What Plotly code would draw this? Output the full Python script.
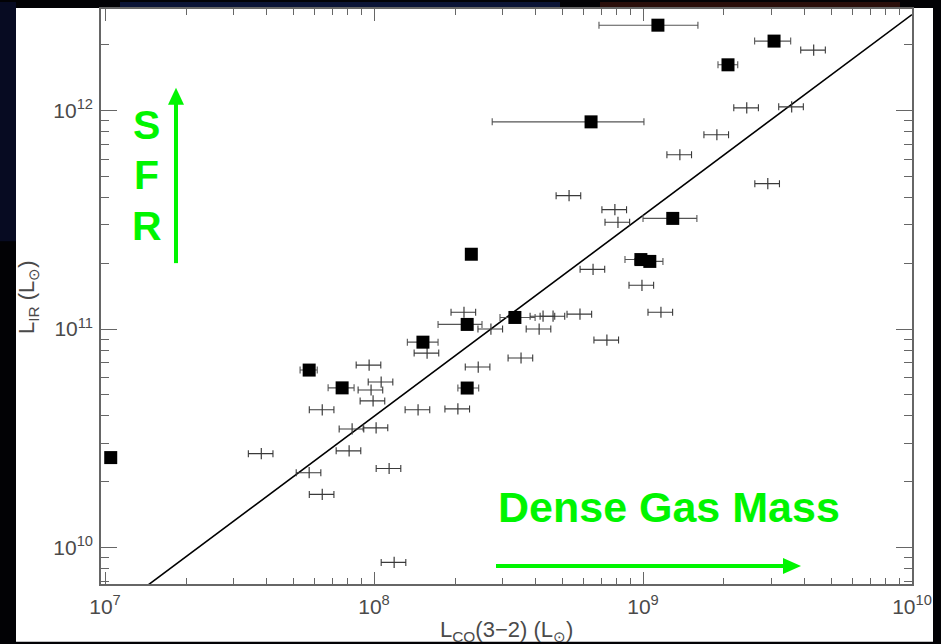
import plotly.graph_objects as go

# ---------------- data ----------------
# filled squares: L'CO(3-2) and L_IR, with horizontal error extents
sq_lco = [1.05e7, 5.74e7, 7.61e7, 1.52e8, 2.30e8, 2.22e8, 2.22e8, 3.34e8,
          6.41e8, 1.136e9, 9.82e8, 1.06e9, 1.29e9, 2.07e9, 3.07e9]
sq_lir = [2.58e10, 6.49e10, 5.38e10, 8.71e10, 2.20e11, 1.05e11, 5.37e10, 1.13e11,
          8.88e11, 2.46e12, 2.08e11, 2.04e11, 3.21e11, 1.62e12, 2.08e12]
sq_lco_lo = [1.05e7, 5.31e7, 6.75e7, 1.33e8, 2.30e8, 1.73e8, 2.05e8, 2.94e8,
             2.75e8, 6.86e8, 8.57e8, 9.33e8, 1.0e9, 1.90e9, 2.60e9]
sq_lco_hi = [1.05e7, 6.15e7, 8.43e7, 1.73e8, 2.30e8, 2.52e8, 2.45e8, 3.97e8,
             1.008e9, 1.60e9, 1.107e9, 1.186e9, 1.586e9, 2.25e9, 3.54e9]

# crosses (local sample)
cr_lco = [3.81e7, 5.74e7, 6.42e7, 8.08e7, 6.42e7, 8.29e7, 1.018e8, 9.59e7, 1.063e8,
          9.75e7, 9.92e7, 1.138e8, 1.188e8, 1.458e8, 1.575e8, 2.05e8, 2.16e8, 2.44e8,
          2.72e8, 3.52e8, 4.11e8, 4.25e8, 4.63e8, 5.83e8, 7.34e8, 1.166e9, 9.91e8,
          6.52e8, 5.31e8, 7.86e8, 8.07e8, 1.371e9, 1.882e9, 2.43e9, 3.57e9, 4.31e9, 2.91e9]
cr_lir = [2.69e10, 2.20e10, 1.75e10, 2.77e10, 4.27e10, 3.49e10, 3.53e10, 6.84e10, 5.72e10,
          5.26e10, 4.69e10, 2.30e10, 8.55e9, 4.27e10, 7.76e10, 4.31e10, 1.194e11, 6.70e10,
          1.0e11, 7.37e10, 1.0e11, 1.145e11, 1.145e11, 1.17e11, 8.90e10, 1.194e11, 1.586e11,
          1.876e11, 4.08e11, 3.52e11, 3.08e11, 6.28e11, 7.75e11, 1.029e12, 1.04e12, 1.892e12, 4.63e11]
cr_lco_err_pct = 10.5

# fitted relation end points
fit_lco = [1.0e7, 1.0e10]
fit_lir = [4.8e9, 2.75e12]

x_tickvals = [1e7, 1e8, 1e9, 1e10]
x_ticktext = ["10<sup>7</sup>", "10<sup>8</sup>", "10<sup>9</sup>", "10<sup>10</sup>"]
y_tickvals = [1e10, 1e11, 1e12]
y_ticktext = ["10<sup>10</sup>", "10<sup>11</sup>", "10<sup>12</sup>"]
x_minor = [m * 10 ** e for e in (7, 8, 9) for m in range(2, 10)]
y_minor = [m * 10 ** e for e in (9, 10, 11, 12) for m in range(2, 10)]

# ---------------- figure ----------------
W, H = 941, 644
ML, MR, MT, MB = 101, 29, 7, 60
PW, PH = W - ML - MR, H - MT - MB


def px(x):
    return (x - ML) / PW


def py(y):
    return (H - MB - y) / PH


GREEN = "#00f500"
AX = "#666666"
TXT = "#4a4a4a"
FONT = "Liberation Sans, Arial, sans-serif"

fig = go.Figure()

fig.add_trace(go.Scatter(x=fit_lco, y=fit_lir, mode="lines",
                         line=dict(color="black", width=1.6), hoverinfo="skip"))

fig.add_trace(go.Scatter(
    x=cr_lco, y=cr_lir, mode="markers",
    marker=dict(symbol="line-ns", size=8, line=dict(color="#3a3a3a", width=1.2)),
    error_x=dict(type="percent", value=cr_lco_err_pct, color="#3a3a3a", thickness=1.1, width=3.5),
))

fig.add_trace(go.Scatter(
    x=sq_lco, y=sq_lir, mode="markers",
    marker=dict(symbol="square", size=13, color="black"),
    error_x=dict(type="data", symmetric=False,
                 array=[h - x for h, x in zip(sq_lco_hi, sq_lco)],
                 arrayminus=[x - l for x, l in zip(sq_lco, sq_lco_lo)],
                 color="#555555", thickness=1.1, width=3.5),
))

axis_common = dict(
    type="log", showgrid=False, zeroline=False, showline=True, linecolor=AX, linewidth=1.5,
    mirror="allticks", ticks="inside", tickcolor=AX, tickwidth=1.2,
    tickmode="array", tickfont=dict(family=FONT, size=21, color=TXT),
)

fig.update_xaxes(**axis_common, range=[6.985, 10.0], tickvals=x_tickvals, ticktext=x_ticktext,
                 ticklen=12, ticklabelstandoff=3,
                 minor=dict(tickmode="array", tickvals=x_minor, ticks="inside", ticklen=6,
                            tickcolor=AX, tickwidth=1.1, showgrid=False))
fig.update_yaxes(**axis_common, range=[9.833, 12.465], tickvals=y_tickvals, ticktext=y_ticktext,
                 ticklen=16, ticklabelstandoff=2,
                 minor=dict(tickmode="array", tickvals=y_minor, ticks="inside", ticklen=8,
                            tickcolor=AX, tickwidth=1.1, showgrid=False))

shapes = [
    # white slide panel
    dict(type="rect", xref="paper", yref="paper", x0=px(16), x1=px(933), y0=py(642), y1=py(6),
         fillcolor="white", line=dict(width=0), layer="below"),
    # dark slide-background tints
    dict(type="rect", xref="paper", yref="paper", x0=px(0), x1=px(16), y0=py(240), y1=py(0),
         fillcolor="#070b22", line=dict(width=0), layer="below"),
    dict(type="rect", xref="paper", yref="paper", x0=px(120), x1=px(560), y0=py(6), y1=py(0),
         fillcolor="#0b1436", line=dict(width=0), layer="below"),
    dict(type="rect", xref="paper", yref="paper", x0=px(600), x1=px(900), y0=py(6), y1=py(0),
         fillcolor="#2a0e0a", line=dict(width=0), layer="below"),
    # vertical SFR arrow
    dict(type="line", xref="paper", yref="paper", x0=px(176), x1=px(176), y0=py(262), y1=py(100),
         line=dict(color=GREEN, width=4)),
    dict(type="path", xref="paper", yref="paper",
         path=f"M {px(176)},{py(86)} L {px(168)},{py(103)} L {px(184)},{py(103)} Z",
         fillcolor=GREEN, line=dict(color=GREEN, width=0)),
    # horizontal dense-gas arrow
    dict(type="line", xref="paper", yref="paper", x0=px(496), x1=px(786), y0=py(566), y1=py(566),
         line=dict(color=GREEN, width=4)),
    dict(type="path", xref="paper", yref="paper",
         path=f"M {px(801)},{py(566)} L {px(783)},{py(558)} L {px(783)},{py(574)} Z",
         fillcolor=GREEN, line=dict(color=GREEN, width=0)),
]

big = dict(family="Liberation Sans, Arial, sans-serif", size=41, color=GREEN)
annotations = [
    dict(text="<b>S</b>", x=px(146), y=py(123), font=big),
    dict(text="<b>F</b>", x=px(146), y=py(174), font=big),
    dict(text="<b>R</b>", x=px(147), y=py(225), font=big),
    dict(text="<b>Dense Gas Mass</b>", x=px(668.5), y=py(507), font=dict(big, size=43)),
    dict(text="L<sub>CO</sub>(3−2) (L<sub>⊙</sub>)", x=px(506), y=py(631),
         font=dict(family=FONT, size=22, color=TXT)),
    dict(text="L<sub>IR</sub> (L<sub>⊙</sub>)", x=px(28), y=py(296), textangle=-90,
         font=dict(family=FONT, size=22, color=TXT)),
]
for a in annotations:
    a.update(xref="paper", yref="paper", showarrow=False, xanchor="center", yanchor="middle")

fig.update_layout(
    width=W, height=H, margin=dict(l=ML, r=MR, t=MT, b=MB),
    paper_bgcolor="#020205", plot_bgcolor="white", showlegend=False,
    shapes=shapes, annotations=annotations,
)

fig.write_html("out.html")
